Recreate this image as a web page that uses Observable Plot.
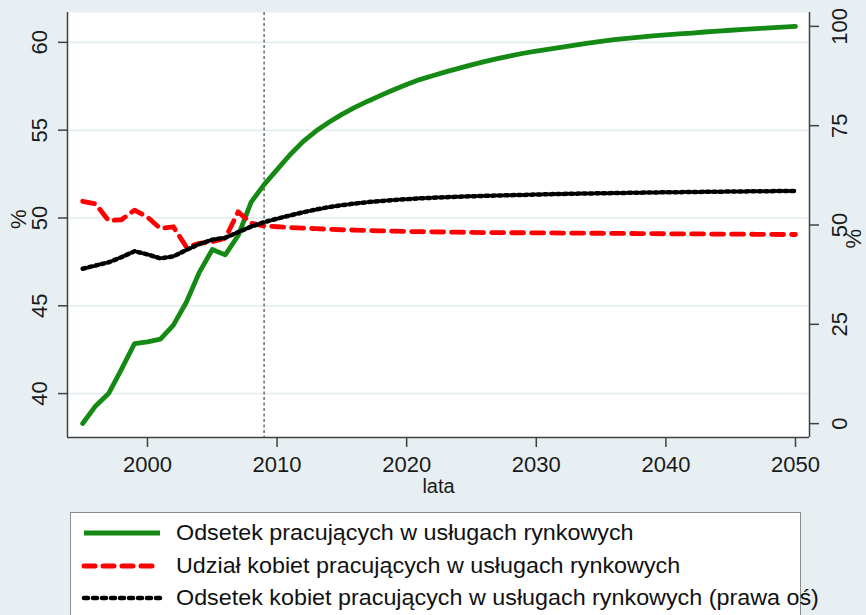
<!DOCTYPE html>
<html><head><meta charset="utf-8">
<script src="https://cdn.jsdelivr.net/npm/d3@7"></script>
<script src="https://cdn.jsdelivr.net/npm/@observablehq/plot@0.6"></script>
<style>
html,body{margin:0;padding:0;background:#e8eff3;width:866px;height:615px;overflow:hidden;font-family:"Liberation Sans",Arial,sans-serif;}
#chart{position:absolute;left:0;top:0;}
#legend{position:absolute;left:70px;top:512px;width:731px;height:130px;border:1px solid #8c8c8c;background:#fff;box-sizing:border-box;overflow:visible;}
.row{position:absolute;left:0;height:30px;width:900px;}
.row svg{position:absolute;left:10px;top:0;}
.row span{position:absolute;left:105px;top:0;white-space:nowrap;font-size:22px;transform:scaleX(1.06);transform-origin:0 50%;line-height:30px;color:#111;}
</style></head><body>
<div id="chart"></div>
<div id="legend"></div>
<script>
const years = [1995,1996,1997,1998,1999,2000,2001,2002,2003,2004,2005,2006,2007,2008,2009,2010,
  2011,2012,2013,2014,2015,2016,2017,2018,2019,2020,2021,2022,2023,2024,2025,2026,2027,2028,2029,2030,
  2031,2032,2033,2034,2035,2036,2037,2038,2039,2040,2041,2042,2043,2044,2045,2046,2047,2048,2049,2050];
// Odsetek pracujących w usługach rynkowych (left axis)
const odsetek = [38.3,39.3,40.0,41.4,42.85,42.95,43.1,43.9,45.2,46.9,48.2,47.9,49.0,50.9,51.9,52.75,
  53.6,54.35,54.95,55.45,55.9,56.3,56.65,56.98,57.3,57.6,57.88,58.1,58.32,58.52,58.72,58.9,59.07,59.23,59.38,59.5,
  59.62,59.73,59.84,59.96,60.06,60.15,60.23,60.3,60.37,60.43,60.48,60.53,60.59,60.64,60.69,60.74,60.78,60.83,60.87,60.91];
// Udział kobiet pracujących w usługach rynkowych (left axis)
const udzial = [50.95,50.8,49.85,49.9,50.45,50.05,49.4,49.5,48.35,48.55,48.65,48.85,50.35,49.7,49.55,49.5,
  49.46,49.42,49.39,49.36,49.33,49.31,49.29,49.27,49.25,49.23,49.22,49.21,49.2,49.19,49.18,49.17,49.17,49.16,49.16,49.15,
  49.15,49.14,49.14,49.13,49.13,49.12,49.12,49.11,49.11,49.1,49.1,49.09,49.09,49.08,49.08,49.08,49.07,49.07,49.06,49.06];
// Odsetek kobiet pracujących w usługach rynkowych (right axis)
const odsetekKobiet = [39.0,39.8,40.6,41.9,43.4,42.6,41.6,42.1,43.7,45.2,46.3,46.8,48.2,49.6,50.7,51.6,
  52.4,53.2,53.9,54.5,55.0,55.4,55.75,56.05,56.3,56.5,56.7,56.85,57.0,57.12,57.23,57.33,57.42,57.5,57.57,57.68,
  57.75,57.82,57.88,57.94,57.99,58.04,58.09,58.14,58.19,58.23,58.27,58.31,58.35,58.39,58.42,58.46,58.49,58.52,58.56,58.59];

const xTicks = [2000,2010,2020,2030,2040,2050];
const leftTicks = [40,45,50,55,60];
const rightTicks = [0,25,50,75,100];
const markerYear = [2009];
const seriesNames = [
  "Odsetek pracujących w usługach rynkowych",
  "Udział kobiet pracujących w usługach rynkowych",
  "Odsetek kobiet pracujących w usługach rynkowych (prawa oś)"
];
const xDomain = [1993.83, 2051.08];
const yDomain = [37.5, 61.7];
const rightOffset = 38.29, rightScale = 0.2262;
const toLeft = v => rightOffset + rightScale * v;

const rows = years.map((year, i) => ({year, green: odsetek[i], red: udzial[i], black: toLeft(odsetekKobiet[i])}));

const GREEN = "#148a14", RED = "#ff0000", BLACK = "#000000", AXIS = "#404040";

const chart = Plot.plot({
  width: 866, height: 505,
  marginLeft: 67, marginRight: 57, marginTop: 12, marginBottom: 68,
  style: {background: "transparent", fontFamily: "'Liberation Sans', Arial, sans-serif", color: "#1a1a1a", overflow: "visible"},
  x: {domain: xDomain},
  y: {domain: yDomain},
  marks: [
    Plot.frame({fill: "white", stroke: "none"}),
    Plot.gridY(leftTicks, {stroke: "#e2ebee", strokeOpacity: 1, strokeWidth: 1.5}),
    Plot.ruleX(markerYear, {stroke: "#777", strokeWidth: 1.6, strokeDasharray: "3,2.5"}),
    Plot.line(rows, {x: "year", y: "green", stroke: GREEN, strokeWidth: 4.8}),
    Plot.line(rows, {x: "year", y: "red", stroke: RED, strokeWidth: 4.8, strokeDasharray: "12,8", strokeLinecap: "round"}),
    Plot.line(rows, {x: "year", y: "black", stroke: BLACK, strokeWidth: 4.5, strokeDasharray: "3,3.5", strokeLinecap: "round"}),
    Plot.ruleX([xDomain[0]], {stroke: AXIS, strokeWidth: 1.5}),
    Plot.ruleX([xDomain[1]], {stroke: AXIS, strokeWidth: 1.5}),
    Plot.ruleY([yDomain[0]], {stroke: AXIS, strokeWidth: 1.5}),
    Plot.axisX(xTicks, {tickSize: 10, tickPadding: 9, fontSize: 22, stroke: AXIS, strokeWidth: 1.5, tickFormat: d => String(d), label: null}),
    Plot.axisY(leftTicks, {anchor: "left", tickSize: 9, tickPadding: 12, tickRotate: -90, fontSize: 22, stroke: AXIS, strokeWidth: 1.5, label: null}),
    Plot.axisY(rightTicks.map(toLeft), {anchor: "right", tickSize: 9, tickPadding: 28, tickRotate: -90, fontSize: 22, stroke: AXIS, strokeWidth: 1.5, label: null,
      tickFormat: d => String(Math.round((d - rightOffset) / rightScale))}),
    Plot.text(["lata"], {text: d => d, frameAnchor: "bottom", dy: 55, fontSize: 20}),
    Plot.text(["%"], {text: d => d, frameAnchor: "left", dx: -49, dy: 4, rotate: -90, fontSize: 22}),
    Plot.text(["%"], {text: d => d, frameAnchor: "right", dx: 44, dy: 4, rotate: -90, fontSize: 22})
  ]
});
document.getElementById("chart").appendChild(chart);

// Legend
const legend = document.getElementById("legend");
const styles = [
  {stroke: GREEN, width: 4.8, dash: null, cap: "butt"},
  {stroke: RED, width: 5, dash: "11,8", cap: "round"},
  {stroke: BLACK, width: 4.5, dash: "4,5", cap: "round"}
];
const tops = [5, 38, 70];
seriesNames.forEach((name, i) => {
  const row = document.createElement("div");
  row.className = "row";
  row.style.top = tops[i] + "px";
  const s = styles[i];
  row.innerHTML = `<svg width="84" height="30"><line x1="3" x2="79" y1="15" y2="15" stroke="${s.stroke}" stroke-width="${s.width}" stroke-linecap="${s.cap}" ${s.dash ? `stroke-dasharray="${s.dash}"` : ""}/></svg><span>${name}</span>`;
  legend.appendChild(row);
});
</script></body></html>
